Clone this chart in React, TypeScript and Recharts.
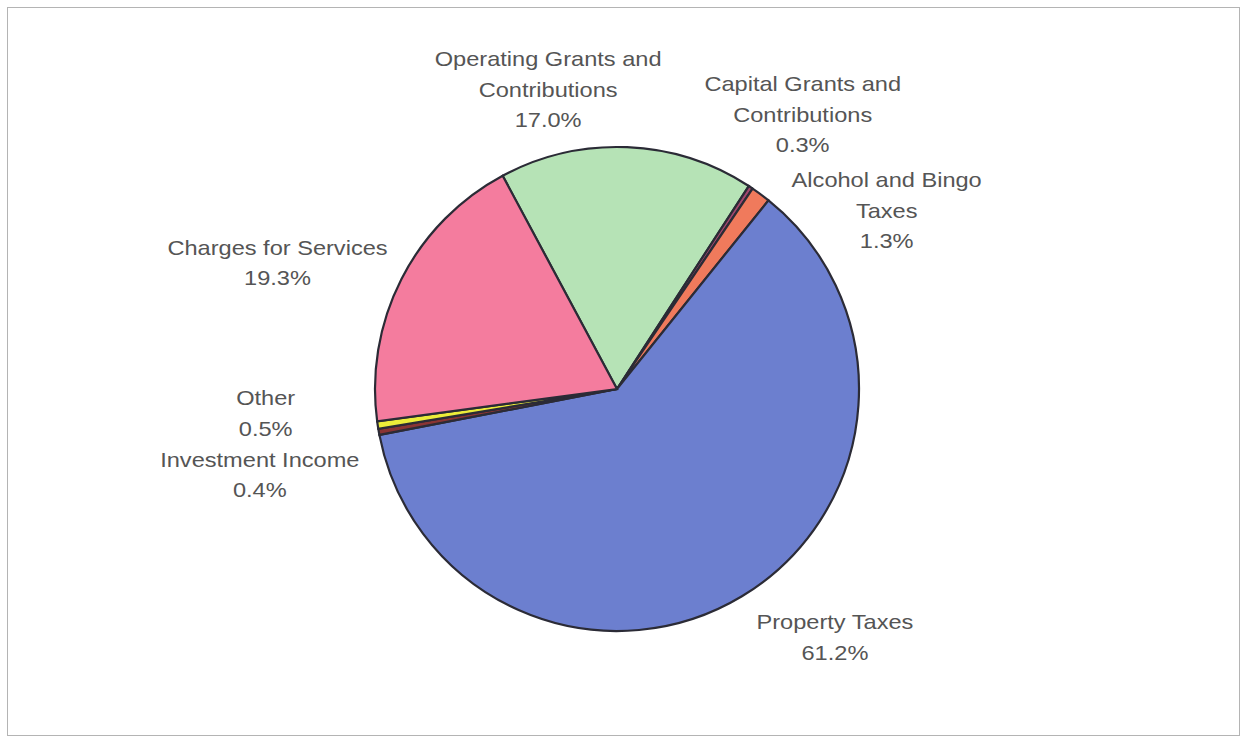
import { PieChart, Pie, Cell } from "recharts";

const CATEGORIES = [
  "Operating Grants and Contributions",
  "Capital Grants and Contributions",
  "Alcohol and Bingo Taxes",
  "Property Taxes",
  "Investment Income",
  "Other",
  "Charges for Services",
];

// label text split the way the original wraps it
const LABEL_LINES = [
  ["Operating Grants and", "Contributions"],
  ["Capital Grants and", "Contributions"],
  ["Alcohol and Bingo", "Taxes"],
  ["Property Taxes"],
  ["Investment Income"],
  ["Other"],
  ["Charges for Services"],
];

const SHARES = [17.0, 0.3, 1.3, 61.2, 0.4, 0.5, 19.3];

const COLORS = [
  "#b6e3b6",
  "#a3466e",
  "#f07a5c",
  "#6c7fcf",
  "#8a3434",
  "#ecec3a",
  "#f47c9e",
];

// nudge of each label block from the slice's outer edge
const LABEL_OFFSETS: [number, number][] = [
  [-79, -58],
  [52, -73],
  [126, 16],
  [93, 41],
  [-119, 43],
  [-112, -12],
  [-124, -16],
];

const data = CATEGORIES.map((name, i) => ({ name, value: SHARES[i] }));

const RAD = Math.PI / 180;
const LINE_H = 30.5;

function SliceLabel(props: any) {
  const { cx, cy, midAngle, outerRadius, index, value } = props;
  const px = cx + outerRadius * Math.cos(-midAngle * RAD);
  const py = cy + outerRadius * Math.sin(-midAngle * RAD);
  const [dx, dy] = LABEL_OFFSETS[index];
  const x = px + dx;
  const y = py + dy;
  const lines = [...LABEL_LINES[index], `${Number(value).toFixed(1)}%`];
  const top = y - ((lines.length - 1) * LINE_H) / 2;
  return (
    <g transform={`translate(${x},${top}) scale(1.18,1)`}>
      <text
        textAnchor="middle"
        dominantBaseline="central"
        fontFamily="'Liberation Sans', Arial, sans-serif"
        fontSize={20}
        fill="#555"
      >
        {lines.map((l, i) => (
          <tspan key={i} x={0} y={i * LINE_H}>
            {l}
          </tspan>
        ))}
      </text>
    </g>
  );
}

export default function App() {
  return (
    <div
      style={{
        position: "absolute",
        left: 0,
        top: 0,
        width: 1242,
        height: 736,
        background: "#fff",
      }}
    >
      <div
        style={{
          position: "absolute",
          left: 7,
          top: 7,
          width: 1231,
          height: 727,
          border: "1.5px solid #b4b4b4",
        }}
      />
      <div style={{ position: "absolute", left: 0, top: 0 }}>
        <PieChart
          width={1242}
          height={736}
          margin={{ top: 0, right: 0, bottom: 0, left: 0 }}
        >
          <Pie
            data={data}
            dataKey="value"
            nameKey="name"
            cx={617}
            cy={389}
            outerRadius={242}
            startAngle={118.2}
            endAngle={-241.8}
            stroke="#2b2b36"
            strokeWidth={2.2}
            label={SliceLabel}
            labelLine={false}
            isAnimationActive={false}
          >
            {data.map((_, i) => (
              <Cell key={i} fill={COLORS[i]} />
            ))}
          </Pie>
        </PieChart>
      </div>
    </div>
  );
}
